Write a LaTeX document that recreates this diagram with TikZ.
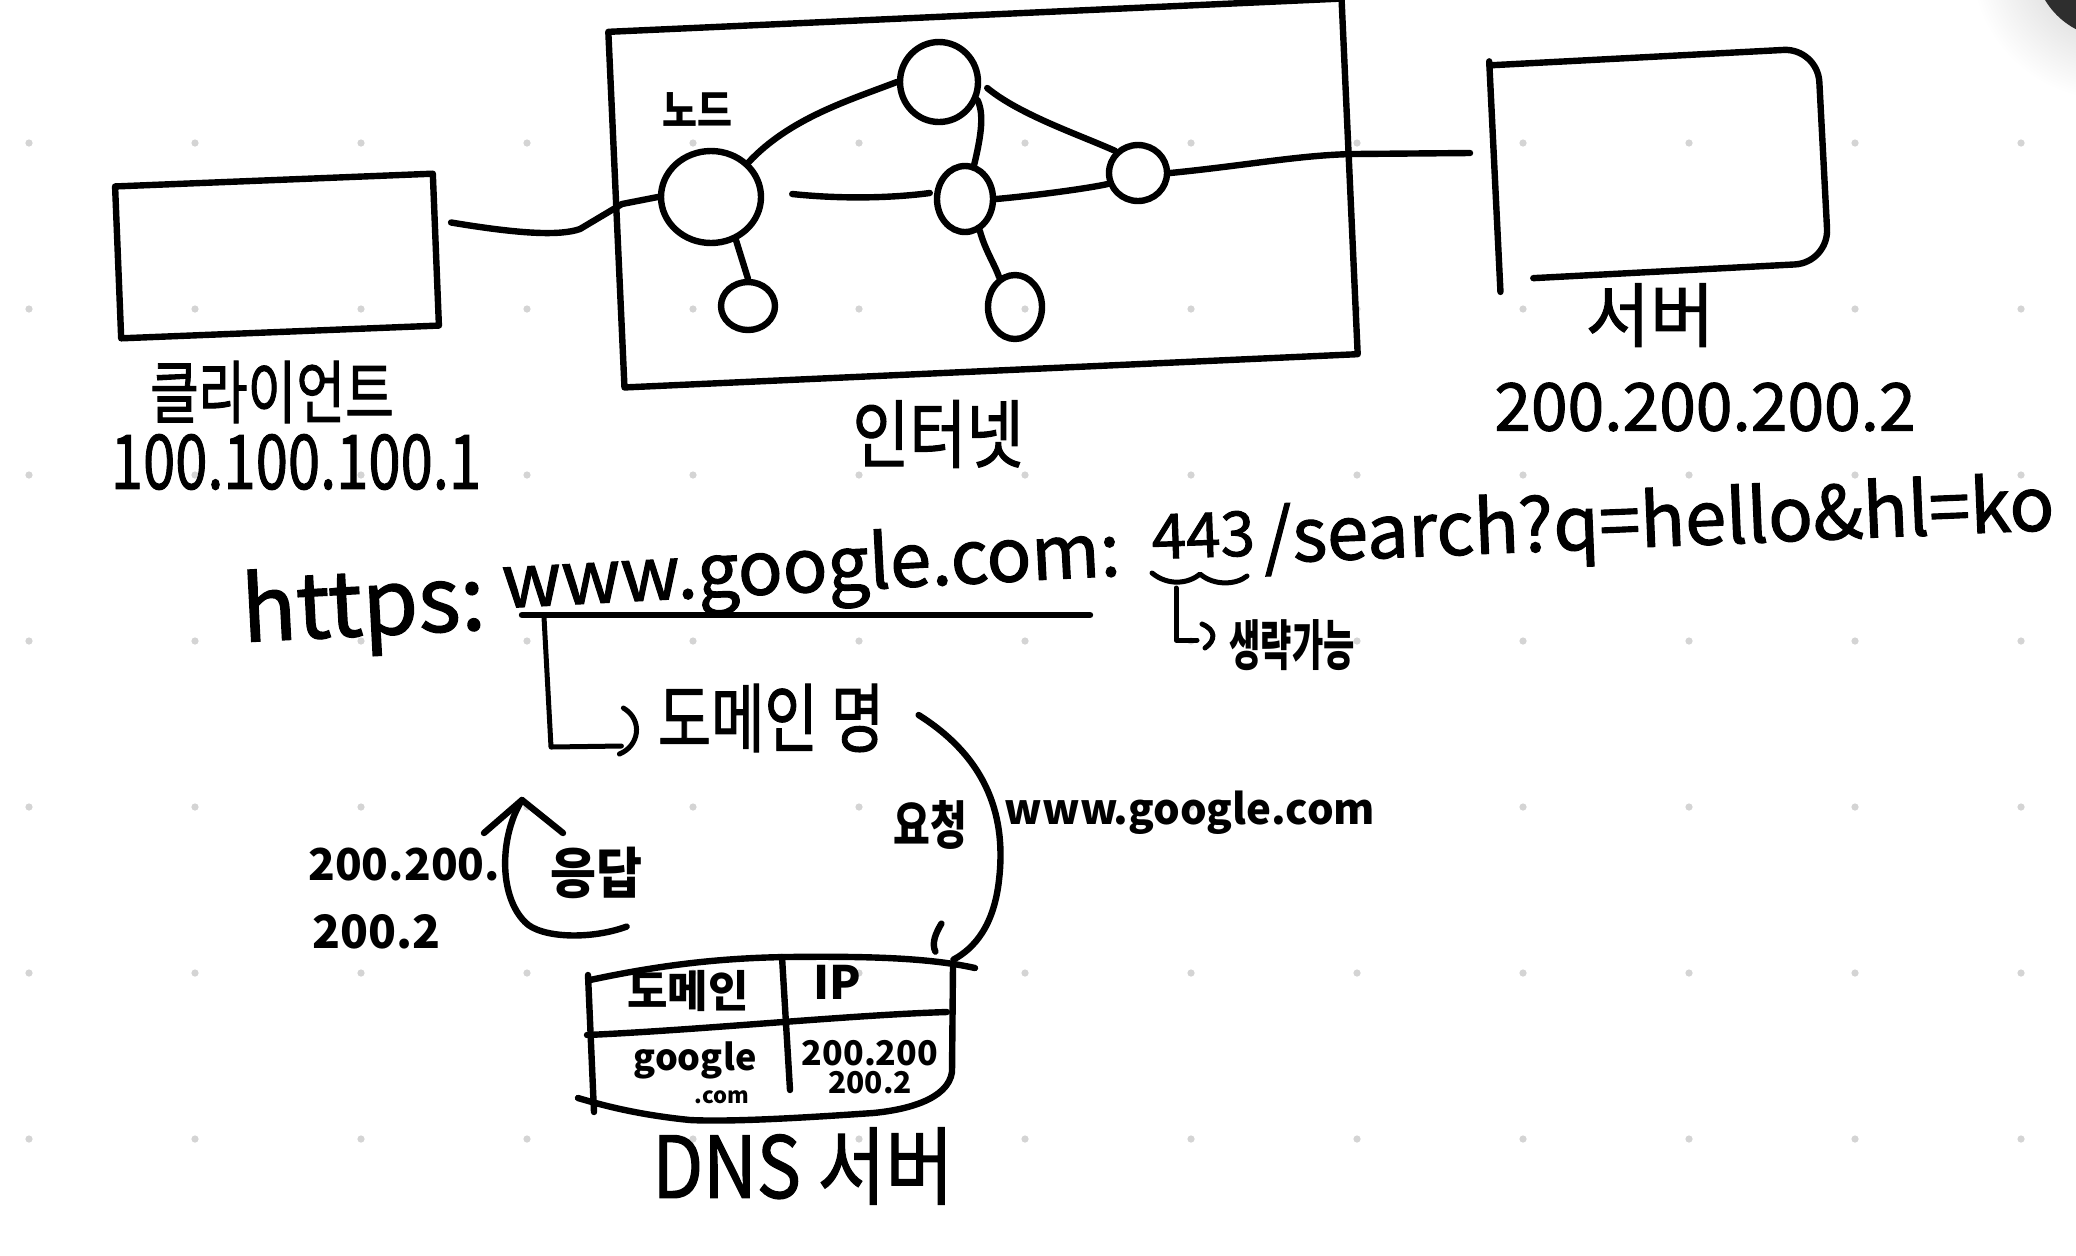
\documentclass[tikz,border=0pt]{standalone}
\usepackage{fontspec}
\setmainfont{Noto Sans CJK KR}
\newfontfamily\hand{Noto Sans CJK KR}[FakeBold=1.5]
\usetikzlibrary{shapes.geometric,calc}
\newcommand\hsz[1]{\fontsize{#1pt}{#1pt}\selectfont}
\newcommand\tallt[2]{\scalebox{1}[#1]{#2}}
\begin{document}
\begin{tikzpicture}[x=0.5pt,y=-0.5pt,
  ink/.style={line width=3.2pt, line cap=round, line join=round, draw=black},
  thinink/.style={line width=2.5pt, line cap=round, line join=round, draw=black},
  ball/.style={ellipse, ink, inner sep=0pt},
  box/.style={ink, inner sep=0pt},
  lbl/.style={inner sep=0pt, text=black}]
\useasboundingbox (0,0) rectangle (2076,1255);
\fill[white] (0,0) rectangle (2076,1255);
% dot grid
\foreach \i in {0,...,12} \foreach \j in {0,...,6}
  \fill[black!17] (29+166*\i,143+166*\j) circle[radius=3.6];
% corner artefact
\begin{scope}
  \clip (0,0) rectangle (2076,1255);
  \shade[inner color=black!22, outer color=white] (2110,-40) circle[radius=140];
  \fill[black!82] (2112,-40) circle[radius=78];
\end{scope}

% ---------- boxes ----------
\node[box, minimum width=159pt, minimum height=76pt, rotate=2.3] (client) at (277,256) {};
\node[box, minimum width=367pt, minimum height=178pt, rotate=2.6] (inet) at (983,193) {};
\node[inner sep=0pt, minimum width=164pt, minimum height=107pt, rotate=3] (server) at (1659,164) {};
\draw[ink] ([yshift=2pt]server.north west) -- ([yshift=-6pt]server.south west);
\draw[ink, rounded corners=17pt] (server.north west) -- (server.north east) -- (server.south east) -- ($(server.south west)!0.1!(server.south east)$);

% ---------- network nodes ----------
\node[ball, minimum width=50pt, minimum height=46pt] (n1) at (711,197) {};
\node[ball, minimum width=39pt, minimum height=40pt] (n2) at (939,82) {};
\node[ball, minimum width=28pt, minimum height=33pt] (n3) at (965,199) {};
\node[ball, minimum width=29pt, minimum height=28pt] (n4) at (1138,173) {};
\node[ball, minimum width=27pt, minimum height=24pt] (n5) at (748,306) {};
\node[ball, minimum width=27pt, minimum height=32pt] (n6) at (1015,307) {};
\coordinate (srvin) at (1470,153);

% connectors
\draw[ink] ($(client.east)+(12,-27)$) .. controls (520,234) and (560,236) .. (580,229) -- (622,204) -- (n1.west);
\draw[ink] (n1.north east) .. controls (790,118) and (850,100) .. (n2.west);
\draw[ink] ($(n1.east)+(28,-3)$) .. controls (850,200) and (900,197) .. ($(n3.west)+(-4,-6)$);
\draw[ink] (n2.-25) .. controls (985,115) and (980,140) .. (n3.75);
\draw[ink] ($(n2.east)+(6,6)$) .. controls (1020,115) and (1080,135) .. (n4.north west);
\draw[ink] (n3.east) .. controls (1040,195) and (1090,188) .. (n4.200);
\draw[ink] (n4.east) .. controls (1250,165) and (1300,155) .. (1354,154) -- (srvin);
\draw[ink] (n1.-60) -- (n5.north);
\draw[ink] (n3.-65) .. controls (985,250) and (995,265) .. (n6.118);

% ---------- labels top ----------
\node[lbl, font=\bfseries\hsz{19}] (nodelbl) at (697,110) {\tallt{1.15}{노드}};
\node[lbl, font=\hand\hsz{26.5}] (clientlbl) at (272,392) {\tallt{1.3}{클라이언트}};
\node[lbl, font=\hand\hsz{29}] (clientip) at (296,462) {\tallt{1.3}{100.100.100.1}};
\node[lbl, font=\hand\hsz{31}] (inetlbl) at (938,434) {\tallt{1.2}{인터넷}};
\node[lbl, font=\hand\hsz{35}] (serverlbl) at (1650,315) {서버};
\node[lbl, font=\hand\hsz{33}] (serverip) at (1705,407) {200.200.200.2};

% ---------- URL ----------
\node[lbl, font=\hand\hsz{45}, anchor=base west, rotate=3] (u1) at (243,642) {https:};
\node[lbl, font=\hand\hsz{37}, anchor=base west, rotate=3] (u2) at (503,608) {www.google.com:};
\node[lbl, font=\hand\hsz{31}, anchor=base west, rotate=2] (u3) at (1152,559) {443};
\node[lbl, font=\hand\hsz{37}, anchor=base west, rotate=2.4] (u4) at (1264,563) {/search?q=hello\&hl=ko};
\coordinate (ul1) at (522,615);
\coordinate (ul2) at (1090,615);
\draw[ink] (ul1) -- (ul2);
\draw[thinink] (1152,573) .. controls (1168,586) and (1188,584) .. (1200,574) .. controls (1214,586) and (1236,585) .. (1247,576);
\node[lbl, font=\bfseries\hsz{17}] (omit) at (1292,645) {\tallt{1.6}{생략가능}};
\draw[thinink] (1176,588) -- (1176,640) -- (1197,640);
\draw[thinink] (1202,624) .. controls (1216,630) and (1216,640) .. (1205,648);

% ---------- domain / DNS ----------
\node[lbl, font=\hand\hsz{29}] (domain) at (771,718) {\tallt{1.3}{도메인 명}};
\draw[thinink] ($(ul1)+(22,2)$) -- (551,747) -- ($(domain.west)+(-36,28)$);
\draw[thinink] ($(domain.west)+(-34,-10)$) .. controls +(20,12) and +(20,-8) .. ($(domain.west)+(-38,36)$);

\node[inner sep=0pt, minimum width=183pt, minimum height=78pt] (dns) at (770,1038) {};
% table outline
\draw[ink] (590,980) .. controls (660,965) and (720,958) .. (787,957) .. controls (870,956) and (930,958) .. (975,968);
\draw[ink] (588,975) -- (594,1112);
\draw[ink] (953,965) -- (952,1072) .. controls (948,1100) and (905,1110) .. (873,1113) .. controls (800,1118) and (730,1122) .. (690,1120) .. controls (640,1115) and (605,1106) .. (578,1098);
\draw[ink] (587,1035) .. controls (700,1030) and (850,1015) .. (947,1012);
\draw[ink] (782,957) -- (790,1090);
\node[lbl, font=\bfseries\hsz{22}] (thdom) at (688,991) {도메인};
\node[lbl, font=\bfseries\hsz{23}] (thip) at (837,982) {IP};
\node[lbl, font=\bfseries\hsz{18}] (tdg) at (695,1060) {google};
\node[lbl, font=\bfseries\hsz{11}] (tdc) at (722,1097) {.com};
\node[lbl, font=\bfseries\hsz{17}] (tdi1) at (870,1053) {200.200};
\node[lbl, font=\bfseries\hsz{15}] (tdi2) at (870,1083) {200.2};
\node[lbl, font=\hand\hsz{37}] (dnslbl) at (803,1166) {\tallt{1.15}{DNS 서버}};

% request
\draw[ink] ($(domain.east)+(34,-3)$) .. controls (990,760) and (1006,820) .. (999,880) .. controls (994,925) and (975,948) .. (dns.north east);
\draw[ink] ($(dns.north east)+(-12,-36)$) .. controls +(-6,10) and +(-4,-8) .. ($(dns.north east)+(-18,-8)$);
\node[lbl, font=\bfseries\hsz{20}] (req) at (930,825) {\tallt{1.3}{요청}};
\node[lbl, font=\bfseries\hsz{21}] (reqtxt) at (1190,813) {www.google.com};

% response
\coordinate (rtip) at (522,800);
\draw[ink] ($(dns.north west)+(40,-33)$) .. controls (590,940) and (540,938) .. (525,922) .. controls (498,895) and (500,835) .. (rtip);
\draw[ink] (484,833) -- (rtip) -- (563,833);
\node[lbl, font=\bfseries\hsz{25}] (resp) at (596,873) {\tallt{1.1}{응답}};
\node[lbl, font=\bfseries\hsz{22}, anchor=west] (respip1) at (308,865) {200.200.};
\node[lbl, font=\bfseries\hsz{23}, anchor=west] (respip2) at (312,932) {200.2};
\end{tikzpicture}
\end{document}
